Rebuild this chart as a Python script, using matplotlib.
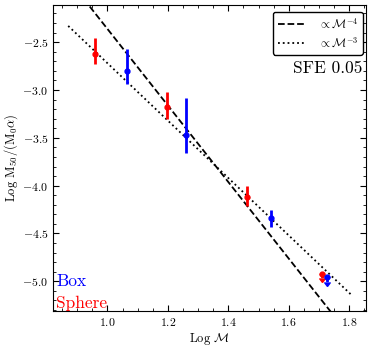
import numpy as np
import matplotlib
matplotlib.use("Agg")
import matplotlib.pyplot as plt

plt.rcParams['font.family'] = 'serif'
plt.rcParams['font.serif'] = ['cmr10', 'DejaVu Serif']
plt.rcParams['mathtext.fontset'] = 'cm'
plt.rcParams['axes.formatter.use_mathtext'] = True
plt.rcParams['font.size'] = 9

# dane (Log M, Log M50/(M0 alpha))
box_x = [1.063, 1.260, 1.542]
box_y = [-2.80, -3.47, -4.34]
box_err_lo = [0.14, 0.19, 0.09]
box_err_hi = [0.23, 0.39, 0.09]

sphere_x = [0.960, 1.197, 1.462]
sphere_y = [-2.62, -3.18, -4.115]
sphere_err_lo = [0.11, 0.12, 0.10]
sphere_err_hi = [0.16, 0.16, 0.115]

# punkty z ograniczeniem gornym
box_lim_x = [1.725]
box_lim_y = [-4.96]
sphere_lim_x = [1.711]
sphere_lim_y = [-4.92]

# linie potegowe
line_x = [0.87, 1.81]
norm_m4 = 1.638
norm_m3 = 0.28

fig = plt.figure(figsize=(3.74, 3.49), dpi=100)
ax = fig.add_axes([0.142, 0.109, 0.836, 0.877])

xx = np.linspace(line_x[0], line_x[1], 50)
ax.plot(xx, norm_m4 - 4 * xx, 'k--', lw=1.3, label=r'$\propto \mathcal{M}^{-4}$')
ax.plot(xx, norm_m3 - 3 * xx, 'k:', lw=1.3, label=r'$\propto \mathcal{M}^{-3}$')

ax.errorbar(box_x, box_y, yerr=[box_err_lo, box_err_hi], fmt='o', color='blue',
            ms=3.5, elinewidth=2)
ax.errorbar(sphere_x, sphere_y, yerr=[sphere_err_lo, sphere_err_hi], fmt='o', color='red',
            ms=3.5, elinewidth=2)
ax.errorbar(sphere_lim_x, sphere_lim_y, yerr=0.05, uplims=True, fmt='o', color='red',
            ms=3.5, elinewidth=2, capsize=2)
ax.errorbar(box_lim_x, box_lim_y, yerr=0.05, uplims=True, fmt='o', color='blue',
            ms=3.5, elinewidth=2, capsize=2)

ax.set_xlim(0.82, 1.855)
ax.set_ylim(-5.31, -2.11)
ax.set_xticks([1.0, 1.2, 1.4, 1.6, 1.8])
ax.set_yticks([-5.0, -4.5, -4.0, -3.5, -3.0, -2.5])
ax.set_xticks(np.arange(0.85, 1.86, 0.05), minor=True)
ax.set_yticks(np.arange(-5.3, -2.1, 0.1), minor=True)
ax.tick_params(which='both', direction='in', top=True, right=True, labelsize=8.5)
ax.tick_params(which='major', length=4)
ax.tick_params(which='minor', length=2)

ax.set_xlabel(r'Log $\mathcal{M}$', fontsize=9, labelpad=2)
ax.set_ylabel(r'Log $\mathrm{M_{50}/(M_0\alpha)}$', fontsize=9, labelpad=1.5)

leg = ax.legend(loc='upper right', bbox_to_anchor=(0.99, 0.977), borderaxespad=0,
                fontsize=8.5, frameon=True, fancybox=True, edgecolor='black',
                framealpha=1, handlelength=2.4, handletextpad=1.0, labelspacing=0.4)

ax.text(0.99, 0.794, 'SFE 0.05', transform=ax.transAxes, ha='right', va='center', fontsize=12.5)
ax.text(0.01, 0.098, 'Box', transform=ax.transAxes, color='blue', ha='left', va='center', fontsize=12.5)
ax.text(0.01, 0.026, 'Sphere', transform=ax.transAxes, color='red', ha='left', va='center', fontsize=12.5)

fig.savefig('out.png', dpi=100)
